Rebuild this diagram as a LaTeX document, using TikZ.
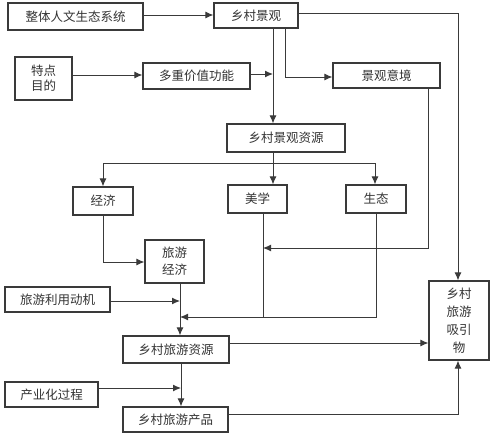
\documentclass[tikz,border=0pt]{standalone}
\usepackage{fontspec}
\setmainfont{Noto Sans CJK SC}
\usetikzlibrary{arrows.meta}
\definecolor{ln}{HTML}{3A3A3A}
\definecolor{tx}{HTML}{333333}
\begin{document}
\begin{tikzpicture}[x=1pt,y=-1pt,
  box/.style={draw=ln, line width=1.2pt, inner sep=0pt, text=tx, align=center,
    font=\fontsize{12.5}{16}\selectfont},
  conn/.style={draw=ln, line width=1pt},
  arr/.style={conn, -{Latex[length=8pt,width=7pt]}}]
\useasboundingbox[fill=white] (0,0) rectangle (492,437);
\node[box, minimum width=135, minimum height=27] (A) at (75.5,16.5) {整体人文生态系统};
\node[box, minimum width=84, minimum height=25] (B) at (256,15.5) {乡村景观};
\node[box, minimum width=57, minimum height=43, font=\fontsize{12.5}{15}\selectfont] (C) at (43.5,78.5) {特点\\目的};
\node[box, minimum width=107, minimum height=26] (D) at (196.5,76) {多重价值功能};
\node[box, minimum width=107, minimum height=25] (E) at (386.5,75.5) {景观意境};
\node[box, minimum width=118, minimum height=28] (F) at (286,138) {乡村景观资源};
\node[box, minimum width=60, minimum height=28] (G) at (103,201) {经济};
\node[box, minimum width=59, minimum height=28] (H) at (257.5,199) {美学};
\node[box, minimum width=60, minimum height=28] (I) at (376,199) {生态};
\node[box, minimum width=59, minimum height=43, font=\fontsize{12.5}{17}\selectfont] (J) at (174.5,261.5) {旅游\\经济};
\node[box, minimum width=105, minimum height=25] (K) at (57.5,299.5) {旅游利用动机};
\node[box, minimum width=106, minimum height=27] (L) at (176,349.5) {乡村旅游资源};
\node[box, minimum width=93, minimum height=25] (M) at (51.5,394.5) {产业化过程};
\node[box, minimum width=105, minimum height=25] (N) at (175.5,419.5) {乡村旅游产品};
\node[box, minimum width=60, minimum height=79, font=\fontsize{12.5}{18}\selectfont] (O) at (459,320.5) {乡村\\旅游\\吸引\\物};
% coordinates
\coordinate (b1) at (273,28);
\coordinate (b2) at (285,28);
\coordinate (ret) at (458,13);
\coordinate (hb) at (263,213);
\coordinate (eb) at (428,88);
\coordinate (vx) at (180,283);
\coordinate (s0) at (273,163);
\coordinate (sl) at (103,163);
\coordinate (sr) at (375,163);
% connectors
\draw[arr] (A.east |- 0,15) -- (B.west |- 0,15);
\draw[arr] (B.east |- 0,13) -| (O.north -| ret);
\draw[arr] (C.east |- 0,75) -- (D.west |- 0,75);
\draw[arr] (D.east |- 0,74) -- (b1 |- 0,74);
\draw[arr] (b1) -- (b1 |- F.north);
\draw[arr] (b2) |- (E.west |- 0,77);
\draw[arr] (eb) |- (hb |- 0,248);
\draw[conn] (F.south -| s0) -- (s0);
\draw[conn] (sl) -- (sr);
\draw[arr] (sl) -- (G.north -| sl);
\draw[arr] (s0) -- (H.north -| s0);
\draw[arr] (sr) -- (I.north -| sr);
\draw[arr] (G.south) |- (J.west |- 0,262);
\draw[conn] (hb) -- (263,317);
\draw[arr] (I.south) |- (vx |- 0,317);
\draw[arr] (vx) -- (vx |- L.north);
\draw[arr] (K.east |- 0,301) -- (vx |- 0,301);
\draw[arr] (L.east |- 0,343) -- (O.west |- 0,343);
\draw[arr] (L.south -| 181,0) -- (N.north -| 181,0);
\draw[arr] (M.east |- 0,388) -- (181,388);
\draw[arr] (N.east |- 0,414) -| (O.south -| ret);
\end{tikzpicture}
\end{document}
